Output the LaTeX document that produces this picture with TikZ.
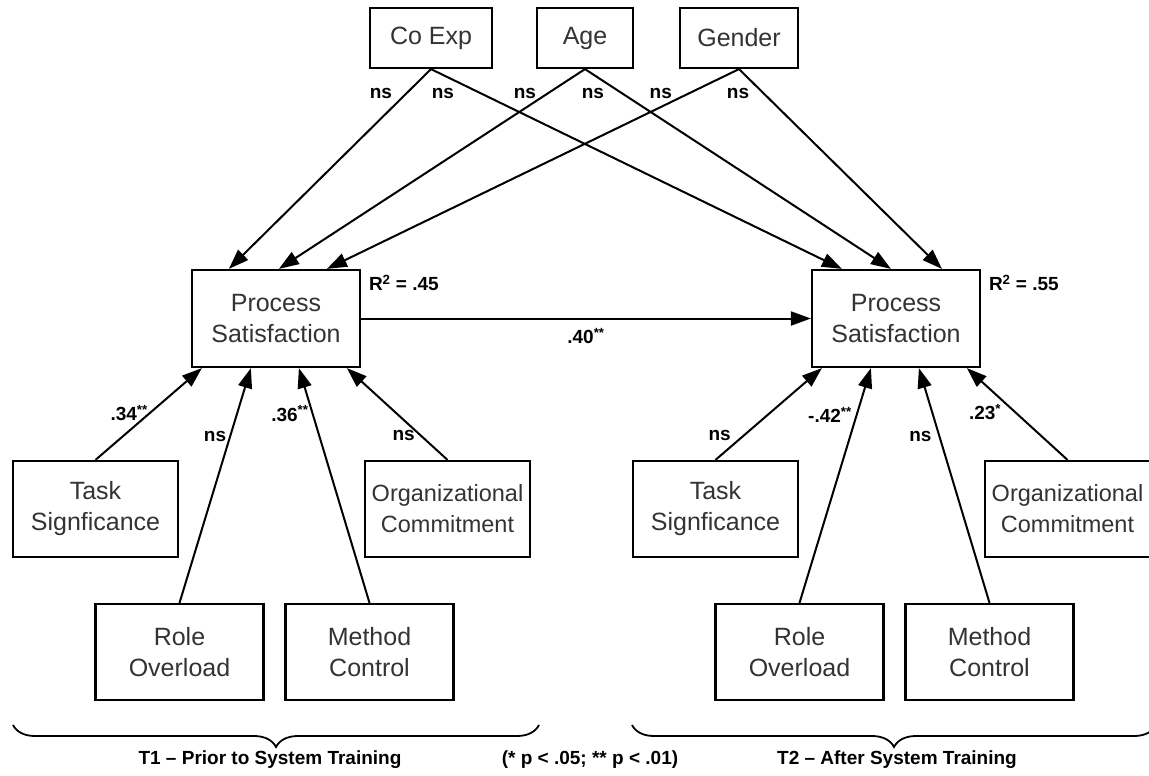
\documentclass[tikz,border=0pt]{standalone}
\usepackage{fontspec}
\setmainfont{Liberation Sans}
\usetikzlibrary{arrows.meta,positioning,decorations.pathreplacing}

\begin{document}
\begin{tikzpicture}[x=1pt, y=-1pt, -{Triangle[length=20pt,width=14pt]}, line width=2pt, auto]

    \tikzstyle{box}=[draw=black, line width=2.2pt, fill=white, text=black!80, align=center, inner sep=0pt, font=\fontsize{25pt}{31pt}\selectfont]
    \tikzstyle{orgbox}=[box, font=\fontsize{23.5pt}{31pt}\selectfont]
    \tikzstyle{lbl}=[inner sep=0pt, text=black, font=\fontsize{19pt}{22pt}\selectfont\bfseries]

    \useasboundingbox (0,0) rectangle (1149,776);

    % controls
    \node[box, minimum width=122pt, minimum height=60pt] (COEXP) at (431,38) {Co Exp};
    \node[box, minimum width=96pt, minimum height=60pt] (AGE) at (585,38) {Age};
    \node[box, minimum width=118pt, minimum height=60pt] (GENDER) at (739,38) {Gender};

    % T1
    \node[box, minimum width=168pt, minimum height=97pt] (PSONE) at (276,318.5) {Process\\Satisfaction};
    \node[box, minimum width=165pt, minimum height=96pt] (TASKONE) at (95.5,509) {Task\\Signficance};
    \node[orgbox, minimum width=165pt, minimum height=96pt] (ORGONE) at (447.5,509) {Organizational\\Commitment};
    \node[box, minimum width=168pt, minimum height=96pt] (ROLEONE) at (179.5,652) {Role\\Overload};
    \node[box, minimum width=168pt, minimum height=96pt] (METHODONE) at (369.5,652) {Method\\Control};

    % T2
    \node[box, minimum width=168pt, minimum height=97pt] (PSTWO) at (896,318.5) {Process\\Satisfaction};
    \node[box, minimum width=165pt, minimum height=96pt] (TASKTWO) at (715.5,509) {Task\\Signficance};
    \node[orgbox, minimum width=165pt, minimum height=96pt] (ORGTWO) at (1067.5,509) {Organizational\\Commitment};
    \node[box, minimum width=168pt, minimum height=96pt] (ROLETWO) at (799.5,652) {Role\\Overload};
    \node[box, minimum width=168pt, minimum height=96pt] (METHODTWO) at (989.5,652) {Method\\Control};

    \node[lbl, anchor=west] (RSQONE) at (368,283) {R\textsuperscript{2} = .45};
    \node[lbl, anchor=west] (RSQTWO) at (988,283) {R\textsuperscript{2} = .55};

    \path (COEXP.south) edge node[lbl, pos=0.124, anchor=east, xshift=-13pt] {ns} ([xshift=38pt]PSONE.north west)
                        edge node[lbl, pos=0.124, anchor=east, xshift=-27pt] {ns} ([xshift=31pt]PSTWO.north west);
    \path (AGE.south) edge node[lbl, pos=0.124, anchor=east, xshift=-10pt] {ns} ([xshift=88pt]PSONE.north west)
                      edge node[lbl, pos=0.124, anchor=east, xshift=-18pt] {ns} ([xshift=80pt]PSTWO.north west);
    \path (GENDER.south) edge node[lbl, pos=0.124, anchor=east, xshift=-15pt] {ns} ([xshift=136pt]PSONE.north west)
                         edge node[lbl, pos=0.124, anchor=east, xshift=-14pt] {ns} ([xshift=131pt]PSTWO.north west);

    \path (PSONE) edge node[lbl, pos=0.5, anchor=north, yshift=-9pt] {.40\textsuperscript{**}} (PSTWO);

    \path (TASKONE.north) edge node[lbl, pos=0.51, anchor=east, xshift=-1pt] {.34\textsuperscript{**}} ([xshift=11pt]PSONE.south west);
    \path (ROLEONE.north) edge node[lbl, pos=0.709, anchor=east, xshift=-3pt] {ns} ([xshift=60pt]PSONE.south west);
    \path (METHODONE.north) edge node[lbl, pos=0.806, anchor=east, xshift=-3pt] {.36\textsuperscript{**}} ([xshift=108pt]PSONE.south west);
    \path (ORGONE.north) edge node[lbl, pos=0.266, anchor=east, xshift=-5pt] {ns} ([xshift=156pt]PSONE.south west);

    \path (TASKTWO.north) edge node[lbl, pos=0.266, anchor=east, xshift=-12pt] {ns} ([xshift=11pt]PSTWO.south west);
    \path (ROLETWO.north) edge node[lbl, pos=0.802, anchor=east, xshift=-4pt] {-.42\textsuperscript{**}} ([xshift=60pt]PSTWO.south west);
    \path (METHODTWO.north) edge node[lbl, pos=0.709, anchor=east, xshift=-7pt] {ns} ([xshift=108pt]PSTWO.south west);
    \path (ORGTWO.north) edge node[lbl, pos=0.521, anchor=east, xshift=-13pt] {.23\textsuperscript{*}} ([xshift=156pt]PSTWO.south west);

    % braces
    \draw[-, line width=1.8pt, decorate, decoration={brace, mirror, amplitude=22pt}] (13,725) -- (539,725);
    \draw[-, line width=1.8pt, decorate, decoration={brace, mirror, amplitude=22pt}] (632,725) -- (1156,725);

    \node[lbl] (TONE) at (270,760) {T1 -- Prior to System Training};
    \node[lbl] (PVAL) at (590,760) {(* p < .05; ** p < .01)};
    \node[lbl] (TTWO) at (897,760) {T2 -- After System Training};

\end{tikzpicture}
\end{document}
